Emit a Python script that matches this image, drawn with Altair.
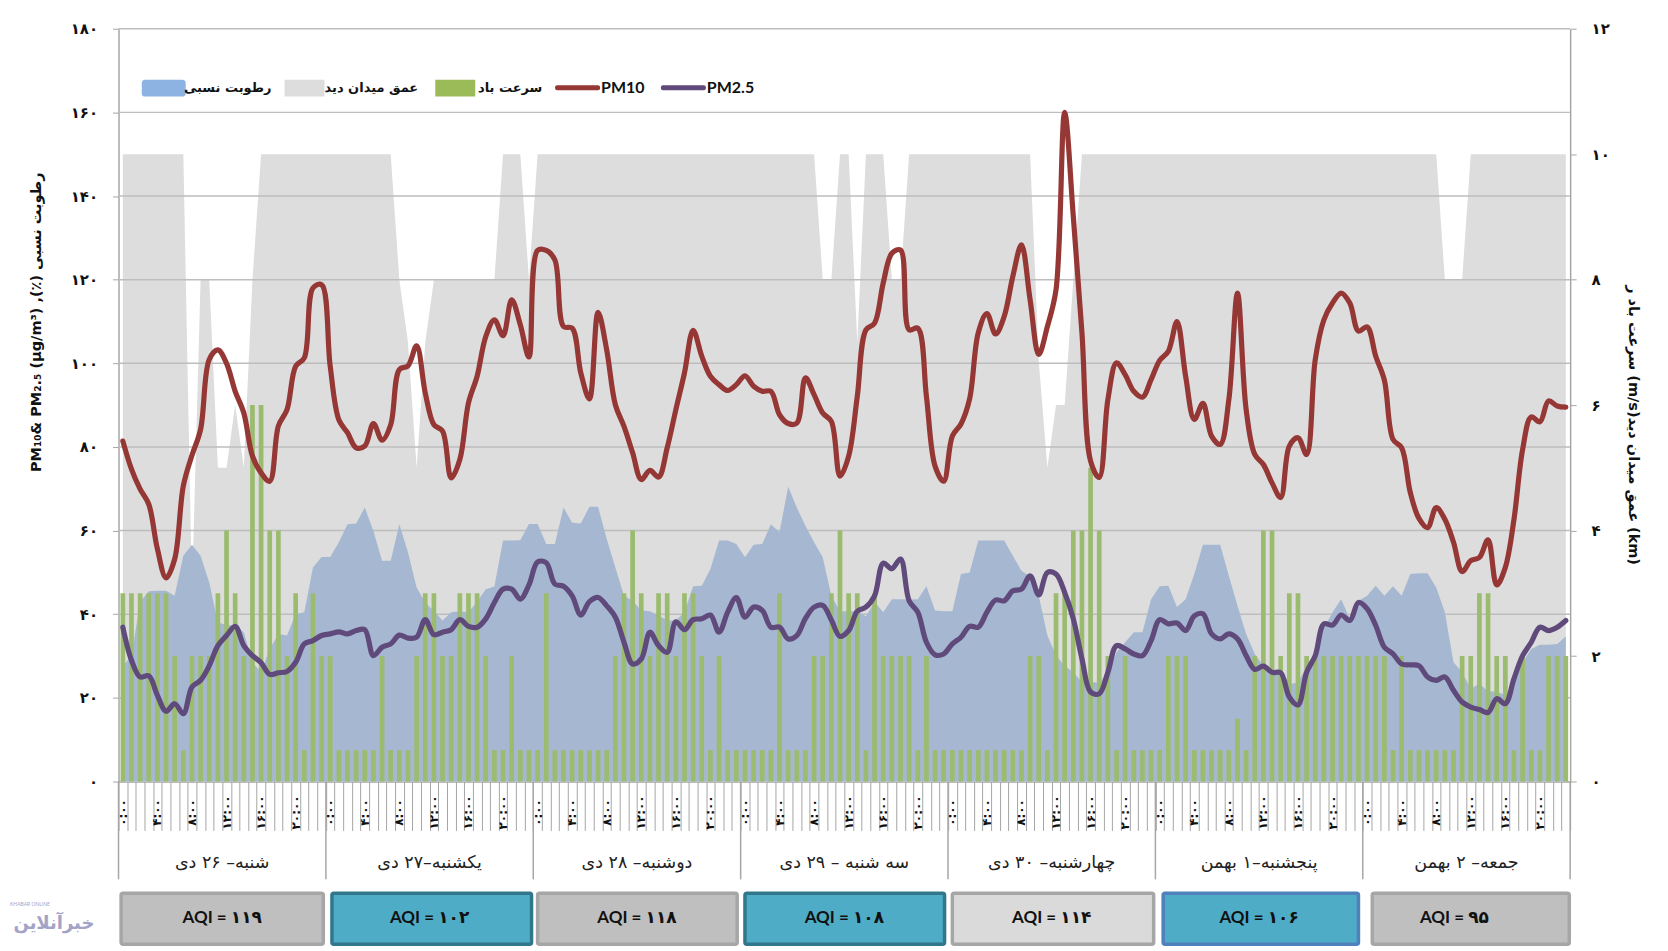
import altair as alt
import pandas as pd

pm10 = [81.4,74.7,69.9,66.3,55.6,48.7,53.2,70.7,78,84.2,100.9,103.2,100,93.3,88.1,77.8,73.8,71.8,85,88.9,99.3,101.3,118,118.8,
99.3,86.5,83.4,79.8,80.2,85.6,81.6,85.3,98.5,99.4,104.2,92.9,85.3,83.8,72.6,77,90.5,96.9,106.4,110.4,106.6,115.2,109.2,101.5,
127,127,124.7,108.8,108.4,97.7,91.5,112.2,103.2,90.1,84.9,78.6,72.2,74.4,72.8,79.8,88.9,97.7,107.9,101.7,96.9,94.9,93.5,94.9,
97,94.5,93.3,93.3,87.7,85.6,85.7,96.5,92.5,88.1,86.1,73,77.8,92.1,108,109.6,119.2,126.3,127.1,108,108.4,92.1,75.4,71.8,
82.6,85.5,91.5,107.3,111.9,107,111.2,120.8,128.3,115.2,102.1,108.8,117.6,160,135.1,107.3,76.6,72.7,91.3,100.1,97.3,93.3,91.9,96.1,
100.7,102.9,110,96.9,86.6,90.4,82.6,80.6,91.3,116.8,89,78.2,75.8,71.4,67.9,80.2,82.2,78.2,100.9,110.4,114.4,116.8,114.4,107.7,
108.7,101.7,96,81.8,79.8,69.1,62.9,60.7,65.5,62.7,57.2,50.2,52.8,53.6,57.8,47,51.2,62.7,79.4,87.2,86,91,89.8,89.5]

pm25 = [36.9,29,25,25.3,20.6,16.8,18.6,16.2,22.6,24.2,27.7,32.5,34.9,37.1,32.5,30.1,28.4,25.6,26,26.3,28.5,32.9,33.7,34.9,
35.3,35.8,35.3,36.1,36.3,30.1,32.1,32.9,35,34.3,34.5,38.7,35.1,35.7,36.3,38.7,37.1,36.9,38.9,42.8,46,46,43.6,47,
52.5,52.3,47.2,46.7,44.4,39.8,43,44,42,39.3,33.3,28.1,29.3,35.7,32.5,30.9,38.2,36.3,38.7,38.9,39.8,35.7,40.5,44,
39.3,41.7,40.9,36.9,36.9,34.1,34.9,39,41.7,42.1,38.6,34.7,36.1,40.7,41.7,44.4,52.2,50.9,53.2,43.2,40.5,33.3,30.3,30.5,
32.9,34.5,37.1,36.9,40.5,43.4,43.2,45.6,46,49.2,44.6,50,49.6,45.2,38.9,29.3,21.4,21,26.1,32.5,31.7,30.5,30.1,33.7,
38.7,37.7,37.9,36.1,39.6,40.1,35.3,34.1,35.3,34.1,30.1,26.8,27.6,26.1,26,20.2,18.3,26.1,30.1,37.7,37.4,39.8,38.5,42.8,
41.3,37.3,32.1,30.5,28.1,27.9,27.7,25,24.2,25,21.8,19,17.8,17.2,16.5,19.8,18.6,24.6,30.1,33.3,36.9,36.1,36.9,38.5]

humidity = [27.7,30,43,45.5,45.6,45.6,44.4,54,56.6,54,47.6,38,37.4,37.3,35.7,28.5,26.1,31.7,35.3,34.9,40,40.5,51.2,53.7,
53.7,57.2,61.5,61.7,65.5,59.9,52.8,52.8,61.5,54.8,46.4,42.8,40.8,38.5,40.5,40.7,40.5,43,46,46.6,57.6,57.6,57.7,61.6,
61.6,56.8,56.8,65.5,61.9,61.7,65.7,65.7,58,51.2,44.4,43.2,40.9,40.7,39.7,38.5,38.5,40.5,46.7,46.8,50.8,57.6,57.6,56.8,
53.6,56.6,56.8,61.5,59.6,70.5,65.5,61.1,57.2,53.6,44.4,40.7,40.7,40.7,39.5,42.9,40.5,43.6,43.6,43.5,43.6,46.7,40.9,40.7,
40.7,49.6,50,57.6,57.6,57.6,57.6,54,50.4,49,44.4,34.9,30.1,27.7,26.1,23.8,23.8,23.6,26.1,30.9,33.3,35.7,35.7,43.6,
46.7,46.8,41.7,43.6,49.6,56.6,56.6,56.6,49.2,42,35.3,30.5,27.7,26.1,25.7,23.3,23.6,27.7,30.9,36.5,40.5,43.6,38.9,43.2,
44.4,46.8,44.4,46.7,44.4,49.6,49.8,49.8,46.4,40.5,28.5,26.1,22.2,23.4,21.5,21.5,20.6,23.7,28.5,31.7,32.7,32.7,32.9,34.7]

visibility = [10,10,10,10,10,10,10,10,3,8,8,5,5,6,5,8,10,10,10,10,10,10,10,10,
10,10,10,10,10,10,10,10,8,7,5,7,8,8,8,8,8,8,8,8,10,10,10,8,
10,10,10,10,10,10,10,10,10,10,10,10,10,10,10,10,10,10,10,10,10,10,10,10,
10,10,10,10,10,10,10,10,10,8,8,10,10,7,10,10,10,8,8,10,10,10,10,10,
10,10,10,10,10,10,10,10,10,10,6.7,5,6,6,8,10,10,10,10,10,10,10,10,10,
10,10,10,10,10,10,10,10,10,10,10,10,10,10,10,10,10,10,10,10,10,10,10,10,
10,10,10,10,10,10,10,10,10,8,8,8,10,10,10,10,10,10,10,10,10,10,10,10]

wind = [3,3,3,3,3,3,2,.5,2,2,2,3,4,3,2,6,6,4,4,2,3,.5,3,2,
2,.5,.5,.5,.5,.5,2,.5,.5,.5,2,3,3,2,2,3,3,3,2,.5,.5,2,.5,.5,
.5,3,.5,.5,.5,.5,.5,.5,.5,2,3,4,3,2,3,3,2,3,3,2,.5,2,.5,.5,
.5,.5,.5,.5,3,.5,.5,.5,2,2,3,4,3,3,.5,3,2,2,2,2,.5,2,.5,.5,
.5,.5,.5,.5,.5,.5,.5,.5,.5,2,2,.5,3,3,4,4,5,4,2,.5,2,.5,.5,.5,
.5,2,2,2,.5,.5,.5,.5,.5,1,.5,2,4,4,2,3,3,2,2,2,2,2,2,2,
2,2,2,.5,2,.5,.5,.5,.5,.5,.5,2,2,3,3,2,2,.5,2,.5,.5,2,2,2]

day_names = ['شنبه– ۲۶ دی','یکشنبه–۲۷ دی','دوشنبه– ۲۸ دی','سه شنبه – ۲۹ دی','چهارشنبه– ۳۰ دی','پنجشنبه–۱ بهمن','جمعه– ۲ بهمن']
aqi_labels = ['AQI = ۱۱۹','AQI = ۱۰۲','AQI = ۱۱۸','AQI = ۱۰۸','AQI = ۱۱۴','AQI = ۱۰۶','AQI = ۹۵']
aqi_class = ['grey','teal','grey','teal','light','blue','grey']
hour_labels = ['۰:۰۰','۴:۰۰','۸:۰۰','۱۲:۰۰','۱۶:۰۰','۲۰:۰۰']
left_ticks = list(range(0,181,20))
right_ticks = list(range(0,13,2))

W, H = 1454, 754
FONT = 'Lato, "DejaVu Sans"'
AR = '"DejaVu Sans"'
AXC = '#A6A6A6'

df = pd.DataFrame({'i':range(168),'pm10':pm10,'pm25':pm25,'humidity':humidity,'visibility':visibility,'wind':wind})
df['t'] = df['i'] + 0.5

x_axis = alt.Axis(values=list(range(169)), tickSize=49, tickColor=AXC, domainColor=AXC, labels=False, title=None, grid=False, domainWidth=1.5)
x_scale = alt.Scale(domain=[0,168], nice=False, zero=False, padding=0)
def X(f='t'):
    return alt.X(f'{f}:Q', scale=x_scale, axis=x_axis)

L = alt.Scale(domain=[0,180], nice=False)
R = alt.Scale(domain=[0,12], nice=False)

def persian(expr='datum.label'):
    for a, b in zip('0123456789','۰۱۲۳۴۵۶۷۸۹'):
        expr = f"replace({expr},/{a}/g,'{b}')"
    return expr

def axis_kw(values, orient):
    return alt.Axis(values=values, orient=orient, title=None, grid=False, tickSize=6, tickColor=AXC, domainColor=AXC,
                    domainWidth=1.5, labelPadding=15, labelFont=AR, labelFontSize=15, labelFontWeight='bold',
                    labelColor='#111111', labelExpr=persian())

base = alt.Chart(df)
grey = base.mark_area(color='#DDDDDD').encode(x=X(), y=alt.Y('visibility:Q', scale=R, axis=None))
grid = alt.Chart(pd.DataFrame({'v':left_ticks[1:]})).mark_rule(color='#BDBDBD', strokeWidth=1.5).encode(y=alt.Y('v:Q', scale=L, axis=None))
blue = base.mark_area(color='#A6B8D1').encode(x=X(), y=alt.Y('humidity:Q', scale=L, axis=axis_kw(left_ticks,'left')))
bars = base.mark_bar(size=4.7, color='#9BBB6F').encode(x=X(), y=alt.Y('wind:Q', scale=R, axis=axis_kw(right_ticks,'right')))
red = base.mark_line(color='#953735', strokeWidth=5.2, interpolate='catmull-rom', strokeCap='round', strokeJoin='round').encode(x=X(), y=alt.Y('pm10:Q', scale=L, axis=None))
purple = base.mark_line(color='#5F4A7B', strokeWidth=5.2, interpolate='catmull-rom', strokeCap='round', strokeJoin='round').encode(x=X(), y=alt.Y('pm25:Q', scale=L, axis=None))

# hour labels under the axis
hl = pd.DataFrame({'label':hour_labels*7})
hl['t'] = [d*24 + h*4 + 0.5 for d in range(7) for h in range(6)]
hour_text = alt.Chart(hl).mark_text(angle=270, font=AR, fontSize=12, fontWeight='bold', color='#111111', align='center', baseline='middle').encode(
    x=X(), y=alt.value(H+31), text='label:N')

# day separators
seps = alt.Chart(pd.DataFrame({'t':[d*24 for d in range(8)]})).mark_rule(color=AXC, strokeWidth=1.5).encode(x=X(), y=alt.value(H), y2=alt.value(H+98))

days = pd.DataFrame({'name':day_names,'aqi':aqi_labels,'cls':aqi_class})
days['mid'] = [d*24 + 12 for d in range(7)]
# the hand-drawn AQI boxes do not sit exactly on the day boundaries
days['start'] = [0.3, 24.7, 48.5, 72.5, 96.5, 120.9, 145.1]
days['end'] = [23.7, 47.8, 71.6, 95.6, 119.8, 143.5, 167.9]
days['text_at'] = [d*24 + 12 for d in range(6)] + [154.6]
day_text = alt.Chart(days).mark_text(font=AR, fontSize=17.5, color='#222222', align='center', baseline='middle').encode(
    x=X('mid'), y=alt.value(H+82), text='name:N')
boxes = alt.Chart(days).mark_rect(strokeWidth=3.5, cornerRadius=2).encode(
    x=X('start'), x2='end:Q', y=alt.value(H+112), y2=alt.value(H+163),
    fill=alt.Fill('cls:N', legend=None, scale=alt.Scale(domain=['grey','teal','light','blue'], range=['#BFBFBF','#4FACC6','#DADADA','#4FACC6'])),
    stroke=alt.Stroke('cls:N', legend=None, scale=alt.Scale(domain=['grey','teal','light','blue'], range=['#A6A6A6','#31778C','#A6A6A6','#4F81BD'])))
box_text = alt.Chart(days).mark_text(font=FONT, fontSize=17, fontWeight='bold', color='#111111', align='center', baseline='middle').encode(
    x=X('text_at'), y=alt.value(H+137), text='aqi:N')

one = alt.Data(values=[{'k':1}])
def swatch(x0, x1, y0, y1, color, r=0):
    return alt.Chart(one).mark_rect(color=color, cornerRadius=r).encode(
        x=alt.value(x0-118.7), x2=alt.value(x1-118.7), y=alt.value(y0-28), y2=alt.value(y1-28))
def label(txt, x, y, size=14, weight='bold', align='center', color='#111111', angle=0, font=FONT):
    return alt.Chart(one).mark_text(text=txt, fontSize=size, fontWeight=weight, align=align, baseline='middle', color=color, angle=angle, font=font).encode(
        x=alt.value(x-118.7), y=alt.value(y-28))

legend = [
    swatch(142,186,79,96,'#8DB3E2',3), label('رطوبت نسبی',228,87,13,font=AR),
    swatch(285,325,79,96,'#DDDDDD'), label('عمق میدان دید',372,87,13,font=AR),
    swatch(436,476,79,96,'#9BBB59'), label('سرعت باد',511,87,13,font=AR),
    swatch(556,601,84.5,89.5,'#953735',2), label('PM10',602,87,16,align='left'),
    swatch(662,707,84.5,89.5,'#5F4A7B',2), label('PM2.5',708,87,16,align='left'),
]
titles = [
    label('PM₁₀& PM₂.₅ (μg/m³) ,(٪) رطوبت نسبی',37,322,14.5,angle=270,font=AR),
    label('سرعت باد ر (m/s)عمق میدان دید (km)',1636,425,14.5,angle=90,font=AR),
    label('خبرآنلاین',54,925,18,color='#A3A3C6',font=AR),
    label('KHABAR ONLINE',30,905,5,weight='normal',color='#A3A3C6'),
]

chart = alt.layer(grey, grid, blue, bars, red, purple, seps, hour_text, day_text, boxes, box_text, *legend, *titles).resolve_scale(
    y='independent'
).properties(
    width=W, height=H,
    padding={'left':110.7,'top':20,'right':90,'bottom':165},
    autosize=alt.AutoSizeParams(type='none'),
    background='white'
).configure_view(stroke=None)

chart.save("out.html", embed_options={"renderer": "svg", "actions": False})
